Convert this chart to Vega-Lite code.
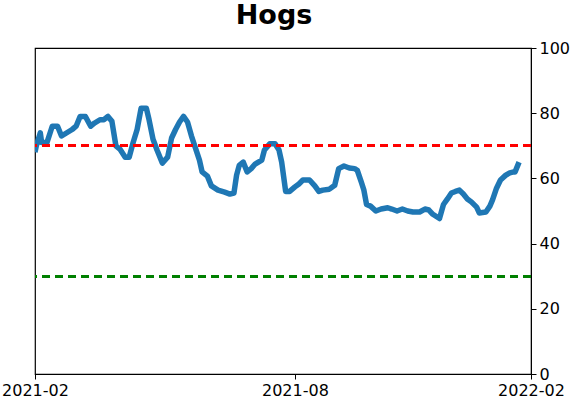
{
  "$schema": "https://vega.github.io/schema/vega-lite/v6.json",
  "autosize": "none",
  "width": 496,
  "height": 326,
  "padding": {"left": 35, "top": 48, "right": 41, "bottom": 28},
  "background": "white",
  "config": {
    "font": "DejaVu Sans",
    "view": {"stroke": "black", "strokeWidth": 1.2},
    "axis": {
      "grid": false,
      "domainColor": "black",
      "tickColor": "black",
      "labelColor": "black",
      "labelFont": "DejaVu Sans",
      "labelFontSize": 16,
      "tickSize": 5,
      "labelPadding": 3
    }
  },
  "title": {
    "text": "Hogs",
    "font": "DejaVu Sans",
    "fontSize": 27,
    "fontWeight": "bold",
    "anchor": "middle",
    "dx": -9,
    "offset": 10
  },
  "data": {
    "values": [
      {"date": "2021-02-01", "value": 68},
      {"date": "2021-02-02", "value": 70},
      {"date": "2021-02-05", "value": 74},
      {"date": "2021-02-06", "value": 71},
      {"date": "2021-02-10", "value": 71},
      {"date": "2021-02-14", "value": 76},
      {"date": "2021-02-18", "value": 76},
      {"date": "2021-02-21", "value": 73},
      {"date": "2021-02-25", "value": 74},
      {"date": "2021-03-01", "value": 75},
      {"date": "2021-03-04", "value": 76},
      {"date": "2021-03-07", "value": 79},
      {"date": "2021-03-11", "value": 79},
      {"date": "2021-03-15", "value": 76},
      {"date": "2021-03-18", "value": 77},
      {"date": "2021-03-22", "value": 78},
      {"date": "2021-03-25", "value": 78},
      {"date": "2021-03-28", "value": 79},
      {"date": "2021-03-31", "value": 77.5},
      {"date": "2021-04-03", "value": 70},
      {"date": "2021-04-06", "value": 69},
      {"date": "2021-04-10", "value": 66.5},
      {"date": "2021-04-13", "value": 66.5},
      {"date": "2021-04-16", "value": 71},
      {"date": "2021-04-19", "value": 75},
      {"date": "2021-04-22", "value": 81.5},
      {"date": "2021-04-26", "value": 81.5},
      {"date": "2021-04-28", "value": 78},
      {"date": "2021-05-01", "value": 72},
      {"date": "2021-05-04", "value": 68.7},
      {"date": "2021-05-08", "value": 64.7},
      {"date": "2021-05-12", "value": 66.5},
      {"date": "2021-05-15", "value": 72.4},
      {"date": "2021-05-18", "value": 75},
      {"date": "2021-05-21", "value": 77.3},
      {"date": "2021-05-24", "value": 79},
      {"date": "2021-05-27", "value": 77.3},
      {"date": "2021-05-30", "value": 73},
      {"date": "2021-06-02", "value": 69.3},
      {"date": "2021-06-05", "value": 65.6},
      {"date": "2021-06-07", "value": 62},
      {"date": "2021-06-11", "value": 60.7},
      {"date": "2021-06-14", "value": 57.7},
      {"date": "2021-06-19", "value": 56.4},
      {"date": "2021-06-24", "value": 55.8},
      {"date": "2021-06-28", "value": 55.2},
      {"date": "2021-07-01", "value": 55.5},
      {"date": "2021-07-03", "value": 61},
      {"date": "2021-07-05", "value": 64},
      {"date": "2021-07-08", "value": 65},
      {"date": "2021-07-11", "value": 62},
      {"date": "2021-07-14", "value": 63},
      {"date": "2021-07-17", "value": 64.4},
      {"date": "2021-07-22", "value": 65.6},
      {"date": "2021-07-24", "value": 68.7},
      {"date": "2021-07-28", "value": 70.6},
      {"date": "2021-08-01", "value": 70.6},
      {"date": "2021-08-04", "value": 68.7},
      {"date": "2021-08-06", "value": 65},
      {"date": "2021-08-09", "value": 56},
      {"date": "2021-08-12", "value": 56},
      {"date": "2021-08-16", "value": 57.4},
      {"date": "2021-08-19", "value": 58.3},
      {"date": "2021-08-22", "value": 59.5},
      {"date": "2021-08-27", "value": 59.5},
      {"date": "2021-08-31", "value": 57.7},
      {"date": "2021-09-03", "value": 56},
      {"date": "2021-09-06", "value": 56.4},
      {"date": "2021-09-11", "value": 56.7},
      {"date": "2021-09-15", "value": 57.9},
      {"date": "2021-09-18", "value": 63},
      {"date": "2021-09-22", "value": 63.8},
      {"date": "2021-09-26", "value": 63.2},
      {"date": "2021-09-30", "value": 63},
      {"date": "2021-10-02", "value": 62.5},
      {"date": "2021-10-05", "value": 58.9},
      {"date": "2021-10-07", "value": 56.4},
      {"date": "2021-10-09", "value": 52},
      {"date": "2021-10-12", "value": 51.5},
      {"date": "2021-10-16", "value": 50},
      {"date": "2021-10-20", "value": 50.6},
      {"date": "2021-10-25", "value": 51},
      {"date": "2021-10-28", "value": 50.6},
      {"date": "2021-11-01", "value": 50},
      {"date": "2021-11-05", "value": 50.6},
      {"date": "2021-11-09", "value": 50},
      {"date": "2021-11-13", "value": 49.7},
      {"date": "2021-11-18", "value": 49.7},
      {"date": "2021-11-22", "value": 50.6},
      {"date": "2021-11-25", "value": 50.3},
      {"date": "2021-11-28", "value": 49},
      {"date": "2021-12-03", "value": 47.7},
      {"date": "2021-12-06", "value": 52},
      {"date": "2021-12-09", "value": 53.7},
      {"date": "2021-12-12", "value": 55.5},
      {"date": "2021-12-15", "value": 56},
      {"date": "2021-12-18", "value": 56.4},
      {"date": "2021-12-21", "value": 55.2},
      {"date": "2021-12-24", "value": 53.7},
      {"date": "2021-12-27", "value": 52.8},
      {"date": "2021-12-31", "value": 51.2},
      {"date": "2022-01-02", "value": 49.4},
      {"date": "2022-01-07", "value": 49.7},
      {"date": "2022-01-10", "value": 51.5},
      {"date": "2022-01-12", "value": 53.4},
      {"date": "2022-01-15", "value": 57},
      {"date": "2022-01-18", "value": 59.5},
      {"date": "2022-01-22", "value": 61},
      {"date": "2022-01-25", "value": 61.7},
      {"date": "2022-01-28", "value": 62},
      {"date": "2022-01-29", "value": 62},
      {"date": "2022-02-01", "value": 65}
    ]
  },
  "layer": [
    {
      "mark": {"type": "line", "color": "#1f77b4", "strokeWidth": 5.5, "strokeJoin": "round", "clip": true},
      "encoding": {
        "x": {
          "field": "date",
          "type": "temporal",
          "title": null,
          "scale": {
            "type": "utc",
            "domain": [
              {"year": 2021, "month": 2, "date": 1, "utc": true},
              {"year": 2022, "month": 2, "date": 10, "utc": true}
            ]
          },
          "axis": {
            "values": [
              {"year": 2021, "month": 2, "date": 1, "utc": true},
              {"year": 2021, "month": 8, "date": 16, "utc": true},
              {"year": 2022, "month": 2, "date": 10, "utc": true}
            ],
            "labelExpr": "utcFormat(datum.value, '%Y-%m')",
            "labelFlush": false,
            "labelOverlap": false
          }
        },
        "y": {
          "field": "value",
          "type": "quantitative",
          "title": null,
          "scale": {"domain": [0, 100], "nice": false},
          "axis": {"orient": "right", "values": [0, 20, 40, 60, 80, 100]}
        }
      }
    },
    {
      "mark": {"type": "rule", "color": "#ff0000", "strokeWidth": 2.2, "strokeDash": [8, 5]},
      "encoding": {"y": {"datum": 70, "type": "quantitative"}}
    },
    {
      "mark": {"type": "rule", "color": "#008000", "strokeWidth": 2.2, "strokeDash": [8, 5]},
      "encoding": {"y": {"datum": 30, "type": "quantitative"}}
    }
  ]
}
